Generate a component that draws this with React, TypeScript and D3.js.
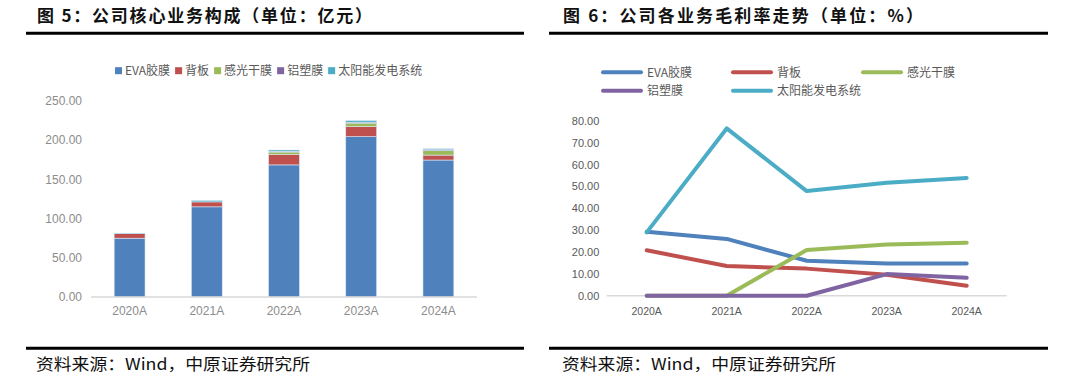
import React, { useEffect, useRef } from "react";
import * as d3 from "d3";

const years = ["2020A", "2021A", "2022A", "2023A", "2024A"];
const seriesNames = ["EVA胶膜", "背板", "感光干膜", "铝塑膜", "太阳能发电系统"];
const seriesColors = ["#4F81BD", "#C0504D", "#9BBB59", "#8064A2", "#4BACC6"];

// Revenue (亿元)
const revEVA = [75.0, 115.0, 168.5, 204.5, 174.7];
const revBack = [5.8, 6.3, 13.0, 12.8, 6.3];
const revDry = [0, 0, 3.4, 4.5, 5.6];
const revAl = [0, 0, 0.8, 1.2, 1.2];
const revSolar = [0.6, 1.8, 1.8, 2.0, 1.3];
const revTicks = [0, 50, 100, 150, 200, 250];

// Gross margin (%)
const gmEVA = [29.3, 26.0, 16.0, 14.8, 14.8];
const gmBack = [20.8, 13.6, 12.4, 9.6, 4.6];
const gmDry = [0, 0, 20.9, 23.5, 24.3];
const gmAl = [0, 0, 0, 9.9, 8.2];
const gmSolar = [29.0, 76.6, 47.9, 51.7, 53.9];
const gmTicks = [0, 10, 20, 30, 40, 50, 60, 70, 80];

const title1 = "图 5：公司核心业务构成（单位：亿元）";
const title2 = "图 6：公司各业务毛利率走势（单位：%）";
const source = "资料来源：Wind，中原证券研究所";

const FONT = "'Liberation Sans', Arial, 'Noto Sans CJK SC', sans-serif";
const CJK = "'Noto Sans CJK SC', 'Liberation Sans', sans-serif";

export default function App() {
  const ref = useRef<SVGSVGElement>(null);

  useEffect(() => {
    const svg = d3.select(ref.current);
    svg.selectAll("*").remove();

    // ---------- headers / footers ----------
    const panels = [
      { x0: 26, x1: 524, tx: 37, tlen: 335, title: title1, sx: 36 },
      { x0: 549, x1: 1048, tx: 563, tlen: 360, title: title2, sx: 562 },
    ];
    panels.forEach((p) => {
      svg.append("text").attr("x", p.tx).attr("y", 22)
        .attr("font-family", CJK).attr("font-weight", 700).attr("font-size", 17)
        .attr("fill", "#111").attr("textLength", p.tlen).attr("lengthAdjust", "spacing")
        .text(p.title);
      svg.append("line").attr("x1", p.x0).attr("x2", p.x1).attr("y1", 33.3).attr("y2", 33.3)
        .attr("stroke", "#000").attr("stroke-width", 3);
      svg.append("line").attr("x1", p.x0).attr("x2", p.x1).attr("y1", 348.3).attr("y2", 348.3)
        .attr("stroke", "#000").attr("stroke-width", 3);
      svg.append("text").attr("x", p.sx).attr("y", 370)
        .attr("font-family", CJK).attr("font-size", 16).attr("fill", "#111")
        .attr("textLength", 274).attr("lengthAdjust", "spacingAndGlyphs")
        .text(source);
    });

    // ---------- left: stacked bars ----------
    const revSeries = [revEVA, revBack, revDry, revAl, revSolar];
    const table = years.map((y, i) => {
      const o: any = { year: y };
      seriesNames.forEach((n, k) => (o[n] = revSeries[k][i]));
      return o;
    });
    const stack = d3.stack().keys(seriesNames)(table as any);
    const xL = d3.scaleBand().domain(years).range([91, 477]).paddingInner(0.6).paddingOuter(0.3);
    const yL = d3.scaleLinear().domain([0, 250]).range([297, 101]);

    const gL = svg.append("g");
    stack.forEach((layer, k) => {
      gL.append("g").selectAll("rect").data(layer).join("rect")
        .attr("x", (d: any) => xL(d.data.year)!)
        .attr("width", xL.bandwidth())
        .attr("y", (d: any) => yL(d[1]))
        .attr("height", (d: any) => Math.max(0, yL(d[0]) - yL(d[1])))
        .attr("fill", seriesColors[k])
        .attr("stroke", "#dde8f5").attr("stroke-width", 0.6);
    });
    gL.append("line").attr("x1", 91).attr("x2", 477).attr("y1", yL(0)).attr("y2", yL(0))
      .attr("stroke", "#d9d9d9").attr("stroke-width", 1.5);
    gL.selectAll("text.yt").data(revTicks).join("text").attr("class", "yt")
      .attr("x", 82).attr("y", (d) => yL(d)).attr("dy", "0.35em").attr("text-anchor", "end")
      .attr("font-family", FONT).attr("font-size", 12).attr("fill", "#8c8c8c")
      .text((d) => d3.format(".2f")(d));
    gL.selectAll("text.xt").data(years).join("text").attr("class", "xt")
      .attr("x", (d) => xL(d)! + xL.bandwidth() / 2).attr("y", 311).attr("dy", "0.35em")
      .attr("text-anchor", "middle")
      .attr("font-family", FONT).attr("font-size", 12).attr("fill", "#8c8c8c")
      .text((d) => d);

    // legend left
    let lx = 115;
    seriesNames.forEach((n, k) => {
      gL.append("rect").attr("x", lx).attr("y", 67.2).attr("width", 7).attr("height", 7)
        .attr("fill", seriesColors[k]);
      const t = gL.append("text").attr("x", lx + 10).attr("y", 70.7).attr("dy", "0.35em")
        .attr("font-family", CJK).attr("font-size", 12).attr("fill", "#595959").text(n);
      const w = (t.node() as SVGTextElement).getComputedTextLength();
      lx += 10 + w + 5;
    });

    // ---------- right: lines ----------
    const gmSeries = [gmEVA, gmBack, gmDry, gmAl, gmSolar];
    const xR = d3.scaleBand().domain(years).range([606.7, 1006.7]);
    const yR = d3.scaleLinear().domain([0, 80]).range([295.7, 121]);
    const gR = svg.append("g");
    gR.append("line").attr("x1", 606.7).attr("x2", 1006.7).attr("y1", yR(0)).attr("y2", yR(0))
      .attr("stroke", "#d9d9d9").attr("stroke-width", 1.5);
    gR.selectAll("text.yt").data(gmTicks).join("text").attr("class", "yt")
      .attr("x", 599.3).attr("y", (d) => yR(d)).attr("dy", "0.35em").attr("text-anchor", "end")
      .attr("font-family", FONT).attr("font-size", 11).attr("fill", "#595959")
      .text((d) => d3.format(".2f")(d));
    gR.selectAll("text.xt").data(years).join("text").attr("class", "xt")
      .attr("x", (d) => xR(d)! + xR.bandwidth() / 2).attr("y", 311.7).attr("dy", "0.35em")
      .attr("text-anchor", "middle")
      .attr("font-family", FONT).attr("font-size", 10.5).attr("fill", "#595959")
      .text((d) => d);
    const line = d3.line<number>()
      .x((_, i) => xR(years[i])! + xR.bandwidth() / 2)
      .y((d) => yR(d));
    gmSeries.forEach((s, k) => {
      gR.append("path").attr("d", line(s)!).attr("fill", "none")
        .attr("stroke", seriesColors[k]).attr("stroke-width", 4)
        .attr("stroke-linejoin", "round").attr("stroke-linecap", "round");
    });

    // legend right (two rows)
    const legPos = [
      [603, 72.3], [733, 72.3], [863, 72.3],
      [603, 90.7], [733, 90.7],
    ];
    seriesNames.forEach((n, k) => {
      const [px, py] = legPos[k];
      gR.append("line").attr("x1", px).attr("x2", px + 38).attr("y1", py).attr("y2", py)
        .attr("stroke", seriesColors[k]).attr("stroke-width", 4).attr("stroke-linecap", "round");
      gR.append("text").attr("x", px + 44).attr("y", py).attr("dy", "0.35em")
        .attr("font-family", CJK).attr("font-size", 12).attr("fill", "#595959").text(n);
    });
  }, []);

  return (
    <svg
      ref={ref}
      width={1076}
      height={379}
      style={{ position: "absolute", left: 0, top: 0, background: "#fff" }}
    />
  );
}
